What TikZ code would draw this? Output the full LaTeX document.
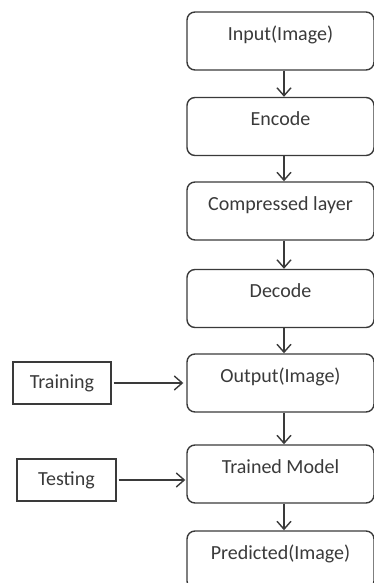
\documentclass[tikz,border=0pt]{standalone}
\usepackage{fontspec}
\setmainfont{Carlito}
\usetikzlibrary{arrows.meta}
\definecolor{ink}{HTML}{3A3A3A}
\tikzset{
  flowbox/.style={draw=ink, line width=1.4pt, rounded corners=8pt,
    minimum width=187pt, minimum height=58pt, inner sep=0pt,
    text=ink, font=\fontsize{20}{22}\selectfont,
    text height=14pt, text depth=15pt},
  sidebox/.style={draw=ink, line width=1.4pt,
    inner sep=0pt, text=ink, font=\fontsize{20}{22}\selectfont},
  flowarrow/.style={draw=ink, line width=1.4pt,
    -{Straight Barb[length=8pt,width=14pt,line width=1.4pt]}},
}
\begin{document}
\begin{tikzpicture}[x=1pt,y=1pt]
  \useasboundingbox (0,0) rectangle (373,583);
  % main pipeline
  \node[flowbox] (inp) at (280.5,542)   {Input(Image)};
  \node[flowbox] (enc) at (280.5,456.5) {Encode};
  \node[flowbox] (cmp) at (280.5,372)   {Compressed layer};
  \node[flowbox] (dec) at (280.5,284.5) {Decode};
  \node[flowbox] (out) at (280.5,200)   {Output(Image)};
  \node[flowbox] (trm) at (280.5,109)   {Trained Model};
  \node[flowbox] (prd) at (280.5,23)    {Predicted(Image)};
  % side inputs
  \node[sidebox, minimum width=98pt, minimum height=42pt] (trn) at (62,200)  {Training};
  \node[sidebox, minimum width=99pt, minimum height=42pt] (tst) at (66.5,103) {Testing};
  % vertical flow
  \foreach \a/\b in {inp/enc, enc/cmp, cmp/dec, dec/out, out/trm, trm/prd}
    \draw[flowarrow] ([xshift=3.5pt]\a.south) -- ([xshift=3.5pt]\b.north);
  % side arrows
  \draw[flowarrow, shorten <=2pt, shorten >=3pt] (trn.east) -- (trn.east -| out.west);
  \draw[flowarrow, shorten <=2pt, shorten >=1pt] (tst.east) -- (tst.east -| trm.west);
\end{tikzpicture}
\end{document}
